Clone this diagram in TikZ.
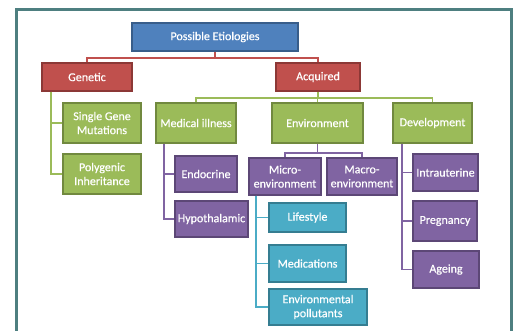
\documentclass[tikz,border=0pt]{standalone}
\usepackage{fontspec}
\setmainfont{Carlito}[FakeBold=0.5]
\definecolor{frm}{HTML}{4E7F80}
\definecolor{bfill}{HTML}{4F81BD}\definecolor{bdraw}{HTML}{385D8A}
\definecolor{rfill}{HTML}{C0504D}\definecolor{rdraw}{HTML}{8C3836}
\definecolor{gfill}{HTML}{9BBB59}\definecolor{gdraw}{HTML}{71893F}
\definecolor{pfill}{HTML}{8064A2}\definecolor{pdraw}{HTML}{5C4776}
\definecolor{tfill}{HTML}{4BACC6}\definecolor{tdraw}{HTML}{357D91}
\tikzset{
  box/.style={draw, line width=1.2pt, inner sep=0pt, text=white, align=center,
    font=\fontsize{12}{14}\selectfont},
  bluebox/.style={box, fill=bfill, draw=bdraw},
  redbox/.style={box, fill=rfill, draw=rdraw},
  greenbox/.style={box, fill=gfill, draw=gdraw},
  purplebox/.style={box, fill=pfill, draw=pdraw},
  tealbox/.style={box, fill=tfill, draw=tdraw},
  conn/.style={line width=1.6pt},
  redline/.style={conn, draw=rfill},
  greenline/.style={conn, draw=gfill},
  purpleline/.style={conn, draw=pfill},
  tealline/.style={conn, draw=tfill},
}
\begin{document}
\begin{tikzpicture}[x=1pt,y=-1pt]
\useasboundingbox (0,0) rectangle (519,331);
\fill[white] (0,0) rectangle (519,331);
\draw[frm, line width=3pt] (16.5,9.5) rectangle (511.5,345);

\node[bluebox, minimum width=166, minimum height=28] (top) at (215,37) {Possible Etiologies};
\node[redbox, minimum width=90, minimum height=28] (gen) at (87,77) {Genetic};
\node[redbox, minimum width=84, minimum height=28] (acq) at (318,77) {Acquired};

\node[greenbox, minimum width=78, minimum height=40] (sgm) at (102,123) {Single Gene\\Mutations};
\node[greenbox, minimum width=78, minimum height=40] (poly) at (102,174) {Polygenic\\Inheritance};
\node[greenbox, minimum width=80, minimum height=40] (med) at (196,123) {Medical illness};
\node[greenbox, minimum width=91, minimum height=40] (env) at (317.5,123) {Environment};
\node[greenbox, minimum width=79, minimum height=40] (dev) at (432.5,123) {Development};

\node[purplebox, minimum width=62, minimum height=36] (endo) at (206,174) {Endocrine};
\node[purplebox, minimum width=73, minimum height=36] (hypo) at (211.5,219) {Hypothalamic};
\node[purplebox, minimum width=72, minimum height=37] (micro) at (285,176.5) {Micro-\\environment};
\node[purplebox, minimum width=70, minimum height=37] (macro) at (362,176.5) {Macro-\\environment};
\node[purplebox, minimum width=65, minimum height=37] (intra) at (445.5,172.5) {Intrauterine};
\node[purplebox, minimum width=64, minimum height=40] (preg) at (445,221) {Pregnancy};
\node[purplebox, minimum width=66, minimum height=37] (age) at (446,269.5) {Ageing};

\node[tealbox, minimum width=77, minimum height=29] (life) at (307.5,217.5) {Lifestyle};
\node[tealbox, minimum width=77, minimum height=37] (medic) at (307.5,263.5) {Medications};
\node[tealbox, minimum width=98, minimum height=36] (poll) at (318,307) {Environmental\\pollutants};

\coordinate (j1) at (215,58);
\coordinate (j2) at (318,98);
\coordinate (j3) at (317.5,153);
\coordinate (g0) at (51,91.6);
\coordinate (m0) at (164,143.6);
\coordinate (mi0) at (256,195.6);
\coordinate (d0) at (402,143.6);

\draw[redline] (top.south) -- (j1) -| (gen.north);
\draw[redline] (j1) -| (acq.north);

\draw[greenline] (acq.south) -- (j2) -| (med.north);
\draw[greenline] (j2) -| (env.north);
\draw[greenline] (j2) -| (dev.north);
\draw[greenline] (g0) |- (sgm.west);
\draw[greenline] (g0) |- (poly.west);

\draw[purpleline] (m0) |- (endo.west);
\draw[purpleline] (m0) |- (hypo.west);
\draw[purpleline] (env.south) -- (j3) -| (micro.north);
\draw[purpleline] (j3) -| (macro.north);
\draw[purpleline] (d0) |- (intra.west);
\draw[purpleline] (d0) |- (preg.west);
\draw[purpleline] (d0) |- (age.west);

\draw[tealline] (mi0) |- (life.west);
\draw[tealline] (mi0) |- (medic.west);
\draw[tealline] (mi0) |- (poll.west);
\end{tikzpicture}
\end{document}
